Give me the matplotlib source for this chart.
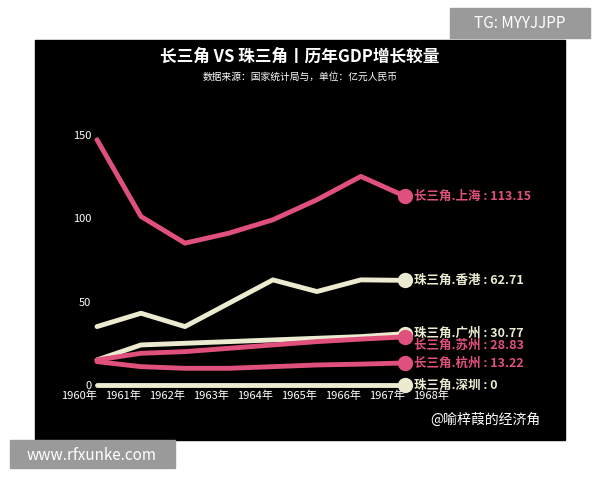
import matplotlib
matplotlib.use("Agg")
import matplotlib.pyplot as plt
from matplotlib.patches import Rectangle

plt.rcParams['font.family'] = ['Noto Sans CJK SC', 'DejaVu Sans']

years = [1960, 1961, 1962, 1963, 1964, 1965, 1966, 1967]
shanghai = [147, 101, 85, 91, 99, 111, 125, 113.15]
hongkong = [35, 43, 35, 49, 63, 56, 63, 62.71]
guangzhou = [15, 24, 25, 26, 27, 28, 29, 30.77]
suzhou = [15, 19, 20, 22, 24, 26, 27.5, 28.83]
hangzhou = [14, 11, 10, 10, 11, 12, 12.5, 13.22]
shenzhen = [0, 0, 0, 0, 0, 0, 0, 0]
names = ['长三角.上海', '珠三角.香港', '珠三角.广州', '长三角.苏州', '长三角.杭州', '珠三角.深圳']
series = [shanghai, hongkong, guangzhou, suzhou, hangzhou, shenzhen]
pink = '#e0507c'
cream = '#ecebd0'
colors = [pink, cream, cream, pink, pink, cream]
label_y = [113.15, 62.71, 30.77, 23.5, 13.22, 0]
xticks = [1960, 1961, 1962, 1963, 1964, 1965, 1966, 1967, 1968]

fig = plt.figure(figsize=(6, 4.8), dpi=100)
fig.patch.set_facecolor('white')
fig.add_artist(Rectangle((35/600, 1-440/480), 530/600, 400/480, transform=fig.transFigure, color='black', zorder=0))
fig.add_artist(Rectangle((450/600, 1-38/480), 140/600, 30/480, transform=fig.transFigure, color='#9a9a9a', zorder=0))
fig.text(520/600, 1-24/480, 'TG: MYYJJPP', color='white', fontsize=11, ha='center', va='center')
fig.add_artist(Rectangle((10/600, 1-468/480), 165/600, 28/480, transform=fig.transFigure, color='#9a9a9a', zorder=0))
fig.text(92/600, 1-455/480, 'www.rfxunke.com', color='white', fontsize=11, ha='center', va='center')
fig.text(300/600, 1-57/480, '长三角 VS 珠三角丨历年GDP增长较量', color='white', fontsize=12, fontweight='bold', ha='center', va='center')
fig.text(300/600, 1-77/480, '数据来源：国家统计局与，单位：亿元人民币', color='white', fontsize=7, ha='center', va='center')
fig.text(485/600, 1-420/480, '@喻梓葭的经济角', color='white', fontsize=10, ha='center', va='center')

ax = fig.add_axes([97/600, 1-385/480, (462-97)/600, (385-118)/480])
ax.set_facecolor('none')
ax.set_xlim(1960, 1968.3)
ax.set_ylim(0, 160)
for s in ax.spines.values():
    s.set_visible(False)
for vals, c, n, ly in zip(series, colors, names, label_y):
    ax.plot(years, vals, color=c, lw=3.5, solid_capstyle='round', clip_on=False)
    ax.plot(years[-1], vals[-1], 'o', color=c, ms=10, clip_on=False)
    ax.text(years[-1] + 0.2, ly, f'{n} : {vals[-1]:g}', color=c, fontsize=9, va='center', fontweight='bold')
ax.set_yticks([0, 50, 100, 150])
ax.set_xticks(xticks)
ax.set_xticklabels([f'{y}年' for y in xticks], ha='right')
ax.tick_params(colors='white', length=0, labelsize=8, pad=4)
fig.savefig('out.png', dpi=100, facecolor='white')
